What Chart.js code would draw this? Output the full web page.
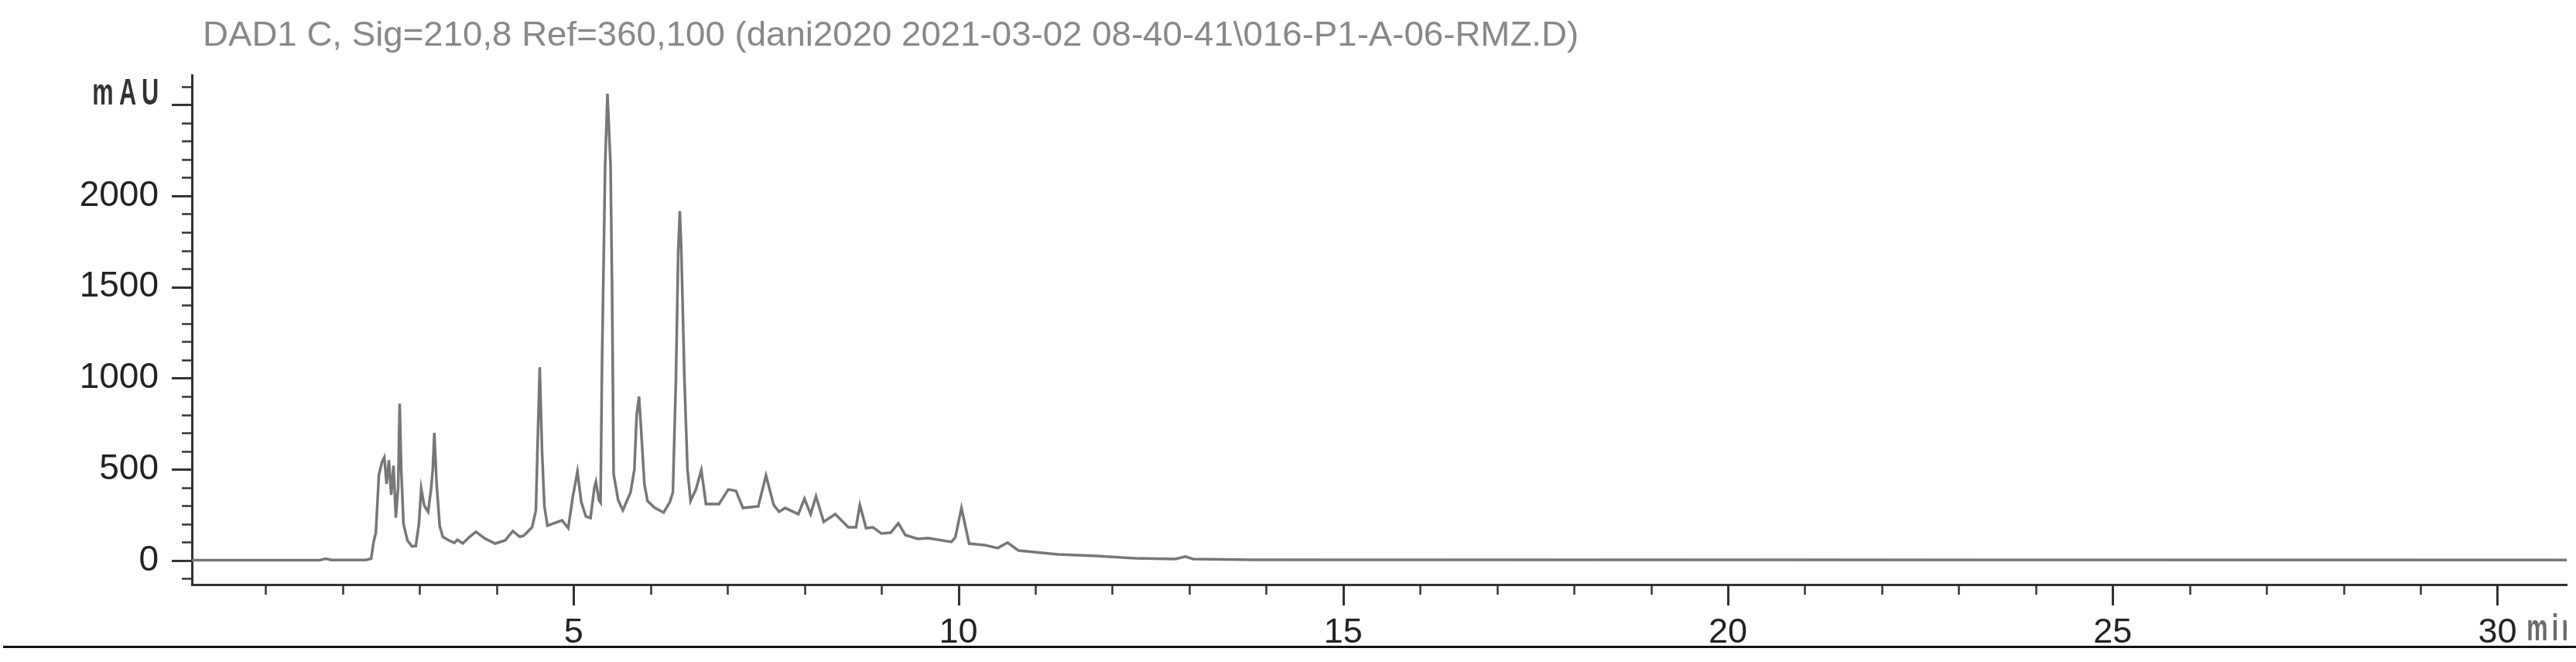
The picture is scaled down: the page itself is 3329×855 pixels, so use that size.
<!DOCTYPE html>
<html lang="en">
<head>
  <meta charset="UTF-8">
  <title>DAD1 C chromatogram</title>
  <script src="https://cdn.jsdelivr.net/npm/chart.js@4.4.2/dist/chart.umd.min.js"></script>
  <style>
    body {
      margin: 0;
      background: #fff;
    }
    #wrap {
      width: 3329px;
      height: 855px;
    }
  </style>
</head>
<body>
  <div id="wrap">
    <canvas id="chrom" width="3329" height="855"></canvas>
  </div>
  <script>
    const titleText = 'DAD1 C, Sig=210,8 Ref=360,100 (dani2020 2021-03-02 08-40-41\\016-P1-A-06-RMZ.D)';

    // retention time (min) and signal (mAU)
    const times = [
      0.04, 1.70, 1.78, 1.85, 2.30, 2.37, 2.40, 2.43, 2.47, 2.51,
      2.54, 2.57, 2.60, 2.63, 2.66, 2.69, 2.72, 2.74, 2.76, 2.79,
      2.84, 2.90, 2.95, 2.99, 3.02, 3.06, 3.11, 3.15, 3.17, 3.19,
      3.22, 3.26, 3.30, 3.38, 3.45, 3.49, 3.56, 3.65, 3.73, 3.85,
      3.98, 4.11, 4.21, 4.30, 4.35, 4.46, 4.51, 4.53, 4.56, 4.59,
      4.62, 4.66, 4.75, 4.85, 4.93, 4.99, 5.05, 5.10, 5.16, 5.22,
      5.27, 5.29, 5.33, 5.35, 5.37, 5.41, 5.44, 5.48, 5.50, 5.52,
      5.58, 5.64, 5.74, 5.79, 5.82, 5.85, 5.88, 5.92, 5.96, 6.05,
      6.17, 6.25, 6.29, 6.33, 6.36, 6.38, 6.40, 6.44, 6.48, 6.52,
      6.59, 6.66, 6.72, 6.89, 7.01, 7.11, 7.20, 7.40, 7.50, 7.60,
      7.67, 7.75, 7.92, 8.00, 8.08, 8.15, 8.25, 8.40, 8.57, 8.67,
      8.72, 8.80, 8.89, 9.00, 9.12, 9.22, 9.31, 9.47, 9.61, 9.91,
      9.96, 10.04, 10.14, 10.34, 10.51, 10.64, 10.78, 11.29, 11.79, 12.29,
      12.82, 12.95, 13.05, 13.80, 30.90
    ];
    const mau = [
      2, 2, 10, 3, 3, 10, 100, 150, 470, 540,
      565, 420, 550, 360, 520, 235, 400, 860, 500, 200,
      110, 78, 80, 200, 394, 300, 267, 400, 500, 700,
      420, 190, 130, 110, 97, 113, 94, 130, 157, 120,
      93, 110, 161, 130, 136, 182, 275, 600, 1060, 600,
      300, 191, 205, 220, 178, 350, 487, 320, 242, 233,
      400, 432, 330, 318, 1100, 2170, 2560, 2170, 1500, 475,
      330, 276, 373, 500, 800, 899, 700, 420, 327, 290,
      263, 320, 373, 1000, 1700, 1917, 1700, 1000, 500, 327,
      390, 496, 310, 310, 390, 382, 288, 297, 466, 305,
      267, 288, 254, 339, 254, 352, 212, 254, 182, 182,
      305, 178, 182, 148, 152, 204, 140, 119, 123, 102,
      127, 288, 93, 85, 68, 98, 55, 34, 25, 12,
      8, 22, 8, 4, 3
    ];

    const yLabelValues = [0, 500, 1000, 1500, 2000];
    const xLabelValues = [5, 10, 15, 20, 25, 30];
    const yStep = 100;   // minor tick spacing, mAU
    const xStep = 1;     // minor tick spacing, min

    const axisColor = '#333';
    const font = "'Liberation Sans', Arial, sans-serif";

    // ticks on every whole step inside the axis range
    function stepTicks(scale, step) {
      const ticks = [];
      for (let v = Math.ceil(scale.min / step) * step; v <= scale.max; v += step) {
        ticks.push({ value: Math.round(v * 1000) / 1000 });
      }
      scale.ticks = ticks;
    }

    const decor = {
      id: 'decor',
      beforeDraw(chart) {
        const ctx = chart.ctx;
        ctx.save();
        ctx.fillStyle = '#fff';
        ctx.fillRect(0, 0, chart.width, chart.height);
        ctx.restore();
      },
      afterDraw(chart) {
        const ctx = chart.ctx;
        const xs = chart.scales.x;
        const ys = chart.scales.y;
        ctx.save();
        ctx.strokeStyle = axisColor;

        // tick marks, long at labelled steps
        ys.ticks.forEach(t => {
          const py = Math.round(ys.getPixelForValue(t.value)) + 0.5;
          const major = t.value % 500 === 0;
          ctx.lineWidth = major ? 3 : 2.5;
          ctx.beginPath();
          ctx.moveTo(ys.right - (major ? 26 : 13), py);
          ctx.lineTo(ys.right, py);
          ctx.stroke();
        });
        xs.ticks.forEach(t => {
          const px = Math.round(xs.getPixelForValue(t.value)) + 0.5;
          const major = t.value % 5 === 0;
          ctx.lineWidth = major ? 3 : 2.5;
          ctx.beginPath();
          ctx.moveTo(px, xs.top);
          ctx.lineTo(px, xs.top + (major ? 27 : 13));
          ctx.stroke();
        });

        // title
        ctx.fillStyle = '#888';
        ctx.font = '45px ' + font;
        ctx.textAlign = 'left';
        ctx.textBaseline = 'alphabetic';
        ctx.save();
        ctx.translate(262, 59);
        ctx.scale(1.014, 1);
        ctx.fillText(titleText, 0, 0);
        ctx.restore();

        // unit labels, condensed
        ctx.fillStyle = '#333';
        ctx.font = 'bold 48px ' + font;
        ctx.textAlign = 'center';
        [['m', 133], ['A', 165], ['U', 194]].forEach(([ch, cx]) => {
          ctx.save();
          ctx.translate(cx, 135);
          ctx.scale(0.64, 1);
          ctx.fillText(ch, 0, 0);
          ctx.restore();
        });

        ctx.save();
        ctx.beginPath();
        ctx.rect(0, 760, chart.chartArea.right, 80);
        ctx.clip();
        ctx.fillStyle = '#6a6a6a';
        [['m', 3279], ['i', 3302], ['n', 3320]].forEach(([ch, cx]) => {
          ctx.save();
          ctx.translate(cx, 827);
          ctx.scale(0.64, 1);
          ctx.fillText(ch, 0, 0);
          ctx.restore();
        });
        ctx.restore();

        // bottom rule
        ctx.fillStyle = '#111';
        ctx.fillRect(4, 834, chart.width - 4, 3);
        ctx.restore();
      }
    };

    new Chart(document.getElementById('chrom').getContext('2d'), {
      type: 'line',
      data: {
        datasets: [{
          data: times.map((t, i) => ({ x: t, y: mau[i] })),
          borderColor: '#777',
          borderWidth: 3.5,
          pointRadius: 0,
          tension: 0,
          fill: false
        }]
      },
      options: {
        responsive: false,
        animation: false,
        devicePixelRatio: 1,
        layout: { padding: { top: 97, right: 12, left: 0, bottom: 0 } },
        plugins: {
          legend: { display: false },
          title: { display: false },
          tooltip: { enabled: false }
        },
        scales: {
          x: {
            type: 'linear',
            min: 0.04,
            max: 30.9,
            border: { display: true, color: axisColor, width: 3 },
            grid: { display: false, drawTicks: false },
            afterBuildTicks: s => stepTicks(s, xStep),
            ticks: {
              autoSkip: false,
              maxRotation: 0,
              padding: 36,
              color: '#222',
              font: { family: font, size: 45 },
              callback: v => xLabelValues.includes(v) ? String(v) : ''
            },
            afterFit: s => { s.height = 100; }
          },
          y: {
            type: 'linear',
            min: -132,
            max: 2662,
            border: { display: true, color: axisColor, width: 3 },
            grid: { display: false, drawTicks: false },
            afterBuildTicks: s => stepTicks(s, yStep),
            ticks: {
              autoSkip: false,
              padding: 43,
              color: '#222',
              font: { family: font, size: 46 },
              callback: v => yLabelValues.includes(v) ? String(v) : ''
            },
            afterFit: s => { s.width = 248; }
          }
        }
      },
      plugins: [decor]
    });
  </script>
</body>
</html>
